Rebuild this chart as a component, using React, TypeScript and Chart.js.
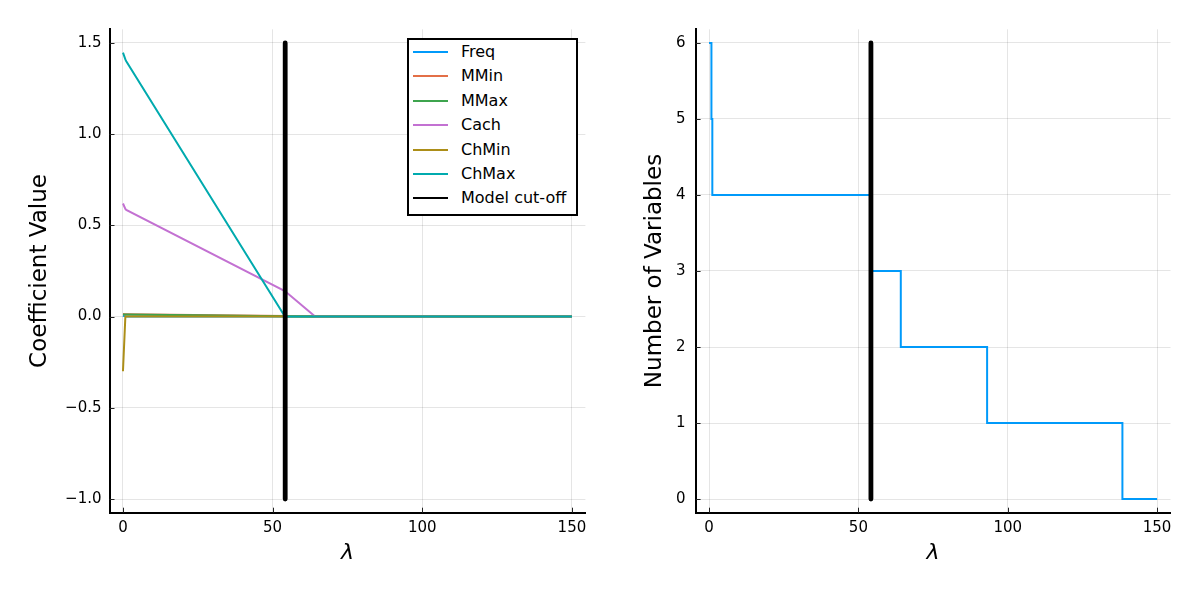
import React, { useEffect, useRef } from "react";
import { Chart, registerables } from "chart.js";

Chart.register(...registerables);

// ---- data ----
const lambdas = [0, 0.8, 1.1, 54.1, 64.2, 93.1, 138.4, 150];
const freq = [0.004, 0.002, 0, 0, 0, 0, 0, 0];
const mmin = [0.014, 0.013, 0.013, 0.003, 0.002, 0.001, 0, 0];
const mmax = [0.012, 0.011, 0.011, 0.002, 0.001, 0.0005, 0, 0];
const cach = [0.62, 0.59, 0.585, 0.14, 0, 0, 0, 0];
const chmin = [-0.3, 0, 0, 0, 0, 0, 0, 0];
const chmax = [1.447, 1.41, 1.4, 0, 0, 0, 0, 0];
const numVars = [6, 5, 4, 3, 2, 1, 0, 0];

const seriesNames = ["Freq", "MMin", "MMax", "Cach", "ChMin", "ChMax"];
const seriesValues = [freq, mmin, mmax, cach, chmin, chmax];
const seriesColors = ["#009AFA", "#E36F47", "#3EA44E", "#C371D2", "#AC8E18", "#00AAAE"];

const cutoffLambda = 54.2;
const cutoffLabel = "Model cut-off";
const coefCutoffRange = [-1.0, 1.5];
const countCutoffRange = [0, 6];

const lambdaTicks = [0, 50, 100, 150];
const coefTicks = [-1.0, -0.5, 0.0, 0.5, 1.0, 1.5];
const countTicks = [0, 1, 2, 3, 4, 5, 6];

const FONT = "'DejaVu Sans', sans-serif";

const innerTicks = {
  id: "innerTicks",
  afterDatasetsDraw(chart: any) {
    const { ctx, chartArea, scales } = chart;
    ctx.save();
    ctx.strokeStyle = "#222";
    ctx.lineWidth = 1;
    scales.x.ticks.forEach((t: any) => {
      const px = Math.round(scales.x.getPixelForValue(t.value)) + 0.5;
      ctx.beginPath();
      ctx.moveTo(px, chartArea.bottom);
      ctx.lineTo(px, chartArea.bottom - 5);
      ctx.stroke();
    });
    scales.y.ticks.forEach((t: any) => {
      const py = Math.round(scales.y.getPixelForValue(t.value)) + 0.5;
      ctx.beginPath();
      ctx.moveTo(chartArea.left, py);
      ctx.lineTo(chartArea.left + 5, py);
      ctx.stroke();
    });
    ctx.restore();
  },
};

function makeOptions(p: {
  yMin: number;
  yMax: number;
  yTicks: number[];
  yFmt: (v: number) => string;
  yTitle: string;
  yAxisWidth: number;
  yTitlePad: number;
  yTickPad: number;
  padRight: number;
}) {
  return {
    responsive: false,
    animation: false,
    layout: { padding: { top: 29.3, right: p.padRight, left: 0, bottom: 0 } },
    plugins: { legend: { display: false }, tooltip: { enabled: false } },
    scales: {
      x: {
        type: "linear",
        min: -4.5,
        max: 154.5,
        afterBuildTicks: (s: any) => {
          s.ticks = lambdaTicks.map((v) => ({ value: v }));
        },
        afterFit: (s: any) => {
          s.height = 87.3;
        },
        grid: { color: "rgba(0,0,0,0.1)", lineWidth: 1, drawTicks: false },
        border: { display: true, color: "#000", width: 2 },
        ticks: {
          color: "#000",
          padding: 6,
          font: { family: FONT, size: 15 },
          maxRotation: 0,
          callback: (v: any) => String(v),
        },
        title: {
          display: true,
          text: "λ",
          color: "#000",
          font: { family: FONT, size: 22, style: "italic" },
          padding: { top: 0, bottom: 34 },
        },
      },
      y: {
        type: "linear",
        min: p.yMin,
        max: p.yMax,
        afterBuildTicks: (s: any) => {
          s.ticks = p.yTicks.map((v) => ({ value: v }));
        },
        afterFit: (s: any) => {
          s.width = p.yAxisWidth;
        },
        grid: { color: "rgba(0,0,0,0.1)", lineWidth: 1, drawTicks: false },
        border: { display: true, color: "#000", width: 2 },
        ticks: {
          color: "#000",
          padding: p.yTickPad,
          font: { family: FONT, size: 15 },
          callback: (v: any) => p.yFmt(Number(v)),
        },
        title: {
          display: true,
          text: p.yTitle,
          color: "#000",
          font: { family: FONT, size: 23 },
          padding: { top: p.yTitlePad, bottom: 0 },
        },
      },
    },
  };
}

const fmtCoef = (v: number) => (v < 0 ? "\u2212" : "") + Math.abs(v).toFixed(1);
const fmtCount = (v: number) => String(v);

function CoefChart() {
  const ref = useRef<HTMLCanvasElement>(null);
  useEffect(() => {
    const n = seriesNames.length;
    const datasets: any[] = seriesNames.map((name, i) => ({
      label: name,
      data: lambdas.map((x, j) => ({ x, y: seriesValues[i][j] })),
      borderColor: seriesColors[i],
      backgroundColor: seriesColors[i],
      borderWidth: 2,
      pointRadius: 0,
      fill: false,
      tension: 0,
      order: n + 1 - i,
    }));
    datasets.push({
      label: cutoffLabel,
      data: coefCutoffRange.map((y) => ({ x: cutoffLambda, y })),
      borderColor: "#000",
      backgroundColor: "#000",
      borderWidth: 4.8,
      borderCapStyle: "round",
      pointRadius: 0,
      fill: false,
      order: 0,
    });
    const chart = new Chart(ref.current as HTMLCanvasElement, {
      type: "line",
      data: { datasets },
      options: makeOptions({
        yMin: -1.075,
        yMax: 1.575,
        yTicks: coefTicks,
        yFmt: fmtCoef,
        yTitle: "Coefficient Value",
        yAxisWidth: 109.5,
        yTitlePad: 26,
        yTickPad: 8,
        padRight: 14.6,
      }) as any,
      plugins: [innerTicks],
    });
    return () => chart.destroy();
  }, []);
  return <canvas ref={ref} width={600} height={600} style={{ display: "block" }} />;
}

function CountChart() {
  const ref = useRef<HTMLCanvasElement>(null);
  useEffect(() => {
    const datasets: any[] = [
      {
        label: "Number of Variables",
        data: lambdas.map((x, j) => ({ x, y: numVars[j] })),
        borderColor: seriesColors[0],
        borderWidth: 2,
        pointRadius: 0,
        stepped: "before",
        fill: false,
        order: 1,
      },
      {
        label: cutoffLabel,
        data: countCutoffRange.map((y) => ({ x: cutoffLambda, y })),
        borderColor: "#000",
        borderWidth: 4.8,
        borderCapStyle: "round",
        pointRadius: 0,
        fill: false,
        order: 0,
      },
    ];
    const chart = new Chart(ref.current as HTMLCanvasElement, {
      type: "line",
      data: { datasets },
      options: makeOptions({
        yMin: -0.18,
        yMax: 6.18,
        yTicks: countTicks,
        yFmt: fmtCount,
        yTitle: "Number of Variables",
        yAxisWidth: 95.6,
        yTitlePad: 41,
        yTickPad: 10,
        padRight: 29.5,
      }) as any,
      plugins: [innerTicks],
    });
    return () => chart.destroy();
  }, []);
  return <canvas ref={ref} width={600} height={600} style={{ display: "block" }} />;
}

function Legend() {
  const names = [...seriesNames, cutoffLabel];
  const colors = [...seriesColors, "#000"];
  return (
    <div
      style={{
        position: "absolute",
        left: 407,
        top: 38,
        width: 171,
        height: 178,
        boxSizing: "border-box",
        border: "2px solid #000",
        background: "#fff",
        fontFamily: FONT,
        fontSize: 16,
        color: "#000",
      }}
    >
      {names.map((nm, i) => (
        <div key={nm}>
          <div
            style={{
              position: "absolute",
              left: 4,
              top: 12 + i * 24.4 - 1,
              width: 35,
              height: 2,
              background: colors[i],
            }}
          />
          <div
            style={{
              position: "absolute",
              left: 52,
              top: 12 + i * 24.4 - 10,
              height: 20,
              lineHeight: "20px",
              whiteSpace: "nowrap",
            }}
          >
            {nm}
          </div>
        </div>
      ))}
    </div>
  );
}

export default function App() {
  return (
    <div style={{ position: "absolute", left: 0, top: 0, width: 1200, height: 600, background: "#fff" }}>
      <div style={{ position: "absolute", left: 0, top: 0 }}>
        <CoefChart />
      </div>
      <div style={{ position: "absolute", left: 600, top: 0 }}>
        <CountChart />
      </div>
      <Legend />
    </div>
  );
}
